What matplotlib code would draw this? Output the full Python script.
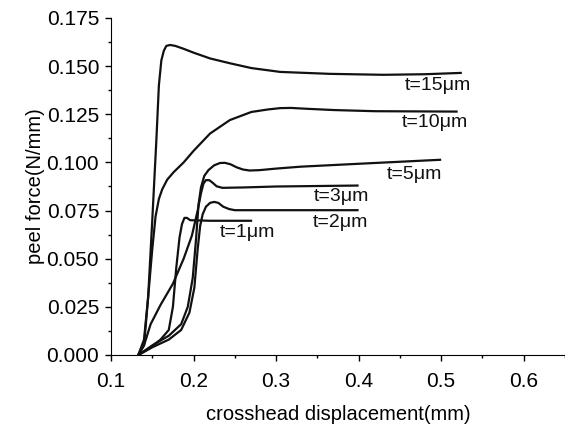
import matplotlib
matplotlib.use("Agg")
import matplotlib.pyplot as plt
from matplotlib.ticker import MultipleLocator, FormatStrFormatter

plt.rcParams['font.family'] = ['Liberation Sans', 'DejaVu Sans']

# t = 15 um
x15 = [0.133, 0.140, 0.145, 0.150, 0.155, 0.158, 0.161, 0.164, 0.167, 0.1715, 0.178, 0.188, 0.200, 0.220, 0.244, 0.270, 0.305, 0.365, 0.430, 0.480, 0.525]
y15 = [0.000, 0.005, 0.030, 0.070, 0.112, 0.140, 0.153, 0.158, 0.1605, 0.161, 0.1605, 0.159, 0.157, 0.154, 0.1515, 0.149, 0.147, 0.146, 0.1455, 0.1458, 0.1465]
# t = 10 um
x10 = [0.133, 0.140, 0.145, 0.150, 0.154, 0.158, 0.162, 0.168, 0.176, 0.188, 0.200, 0.220, 0.244, 0.270, 0.290, 0.305, 0.318, 0.340, 0.370, 0.420, 0.520]
y10 = [0.000, 0.008, 0.030, 0.055, 0.072, 0.081, 0.086, 0.091, 0.095, 0.100, 0.106, 0.115, 0.122, 0.1262, 0.1275, 0.1282, 0.1283, 0.1278, 0.1272, 0.1266, 0.1264]
# t = 5 um
x5 = [0.133, 0.150, 0.170, 0.185, 0.193, 0.199, 0.203, 0.206, 0.209, 0.213, 0.218, 0.225, 0.232, 0.238, 0.245, 0.252, 0.260, 0.268, 0.280, 0.300, 0.330, 0.400, 0.500]
y5 = [0.000, 0.005, 0.010, 0.016, 0.025, 0.040, 0.060, 0.078, 0.087, 0.093, 0.096, 0.0985, 0.0997, 0.0998, 0.099, 0.0975, 0.0963, 0.0958, 0.096, 0.0968, 0.0978, 0.0993, 0.1014]
# t = 3 um
x3 = [0.133, 0.140, 0.148, 0.160, 0.175, 0.188, 0.198, 0.205, 0.209, 0.212, 0.215, 0.219, 0.223, 0.228, 0.235, 0.260, 0.300, 0.400]
y3 = [0.000, 0.005, 0.016, 0.026, 0.037, 0.050, 0.062, 0.075, 0.084, 0.089, 0.0908, 0.0908, 0.0895, 0.0876, 0.0868, 0.087, 0.0875, 0.088]
# t = 2 um
x2 = [0.133, 0.150, 0.170, 0.185, 0.195, 0.201, 0.205, 0.208, 0.211, 0.215, 0.220, 0.225, 0.230, 0.236, 0.243, 0.250, 0.300, 0.400]
y2 = [0.000, 0.004, 0.008, 0.013, 0.022, 0.035, 0.055, 0.067, 0.073, 0.077, 0.079, 0.0795, 0.079, 0.077, 0.0758, 0.0752, 0.0752, 0.0752]
# t = 1 um
x1 = [0.133, 0.145, 0.160, 0.170, 0.175, 0.179, 0.183, 0.186, 0.189, 0.192, 0.196, 0.220, 0.271]
y1 = [0.000, 0.003, 0.008, 0.013, 0.025, 0.045, 0.061, 0.068, 0.0712, 0.0712, 0.0700, 0.0697, 0.0697]

series = [(x15, y15), (x10, y10), (x5, y5), (x3, y3), (x2, y2), (x1, y1)]
labels = ["t=15\u03bcm", "t=10\u03bcm", "t=5\u03bcm", "t=3\u03bcm", "t=2\u03bcm", "t=1\u03bcm"]
label_x = [0.456, 0.4527, 0.4345, 0.346, 0.345, 0.232]
label_y = [0.1399, 0.1206, 0.0936, 0.0822, 0.0686, 0.0634]

fig = plt.figure(figsize=(5.65, 4.25), dpi=100)
ax = fig.add_axes([111/565, 70/425, 454/565, 337/425])

for xs, ys in series:
    ax.plot(xs, ys, color='#111111', lw=1.6, solid_capstyle='butt', solid_joinstyle='round')

for lx, ly, t in zip(label_x, label_y, labels):
    ax.text(lx, ly, t, fontsize=14, ha='left', va='center', color='#111111')

ax.set_xlim(0.1, 0.65)
ax.set_ylim(0, 0.175)
ax.xaxis.set_major_locator(MultipleLocator(0.1))
ax.xaxis.set_minor_locator(MultipleLocator(0.05))
ax.yaxis.set_major_locator(MultipleLocator(0.025))
ax.yaxis.set_minor_locator(MultipleLocator(0.0125))
ax.xaxis.set_major_formatter(FormatStrFormatter('%.1f'))
ax.yaxis.set_major_formatter(FormatStrFormatter('%.3f'))
ax.spines['top'].set_visible(False)
ax.spines['right'].set_visible(False)
ax.tick_params(which='major', direction='out', length=4.5, width=1, labelsize=15)
ax.tick_params(which='minor', direction='out', length=2.5, width=1)
ax.tick_params(axis='x', which='major', pad=8)
ax.tick_params(axis='y', which='major', pad=4)
ax.set_xlabel('crosshead displacement(mm)', fontsize=14.5, labelpad=10)
ax.set_ylabel('peel force(N/mm)', fontsize=14.5, labelpad=1)

fig.savefig('out.png', dpi=100)
